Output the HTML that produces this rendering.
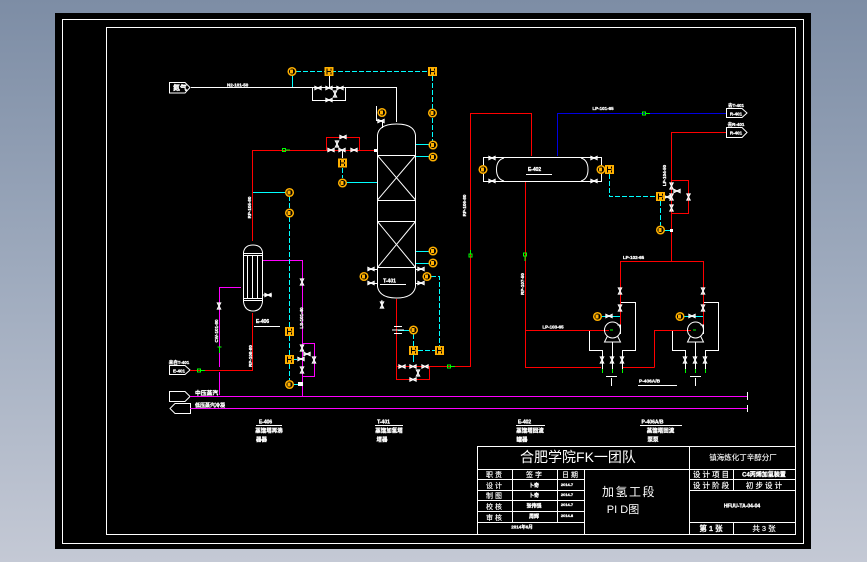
<!DOCTYPE html>
<html><head><meta charset="utf-8">
<style>
html,body{margin:0;padding:0;background:linear-gradient(180deg,#7d8da5 0%,#9fabbe 50%,#c4c9d5 100%);width:867px;height:562px;overflow:hidden}
svg{display:block}
text{font-family:"Liberation Sans","Noto Sans CJK SC",sans-serif;fill:#fff;font-weight:bold;font-size:5px;stroke:#fff;stroke-width:.3}
.t{font-weight:normal;font-size:7px;text-anchor:middle;stroke-width:.15}
.c{font-size:5.500px;text-anchor:middle;font-weight:bold}
.n{stroke:none;font-weight:normal}
</style></head><body>
<svg width="867" height="562" viewBox="0 0 867 562" xmlns="http://www.w3.org/2000/svg">
<defs>
<g id="vh" fill="none" stroke="#fff" stroke-width="1.300"><path d="M-3-1.500V1.500L3-1.500V1.500Z"/></g>
<g id="vv" fill="none" stroke="#fff" stroke-width="1.300"><path d="M-1.500-3H1.500L-1.500 3H1.500Z"/></g>
<g id="i"><circle r="3.800" fill="#000" stroke="#ffb000" stroke-width="1.500"/><rect x="-2" y="-2" width="3" height="4" fill="#ffb000"/></g>
<g id="s"><rect x="-4.500" y="-4.500" width="9" height="9" fill="#ffb000"/><path d="M-2-3V3M-2 0H2M2-3V-1M2 1V3" stroke="#000" stroke-width="1" fill="none"/></g>
<g id="pump" fill="none" stroke="#fff" stroke-width="1"><circle r="8"/><path d="M-5 6L-8 12H8L5 6M-8 12H8"/><path d="M5-5H8V4"/></g>
</defs>

<rect x="55" y="13" width="756" height="536" fill="#000"/>
<g fill="none" stroke="#fff" stroke-width="1" shape-rendering="crispEdges">
<rect x="62.500" y="19.500" width="741" height="524"/>
<rect x="106.500" y="27.500" width="689" height="507"/>
<!-- title block -->
<path d="M477.500 534V446.500H795M477 469.500H795M477 479.500H584M477 490.500H584M477 500.500H584M477 511.500H584M477 522.500H584M512.500 469V522M557.500 469V522M584.500 469V534M689.500 446V534M689 479.500H795M689 490.500H795M689 522.500H795M733.500 469V490M733.500 522V534"/>
</g>

<!-- white process lines -->
<g fill="none" stroke="#fff" stroke-width="1" shape-rendering="crispEdges">
<path d="M191 87.500H396.500V122M312.500 88V100.500H345.500V88M329.500 76V87M342.500 150V158M376.500 106V120.500H382.500V128"/>
<!-- column body -->
<path d="M377.500 135V287M415.500 135V287M377.500 155.500H415.500M377.500 200.500H415.500M377.500 221.500H415.500M377.500 267.500H415.500"/>
<path d="M377 269.500H368M377 283.500H368M416 269.500H423M416 283.500H423"/>
<!-- exchanger -->
<path d="M243.500 252V302M262.500 252V302M243 253.500H263M243 255.500H263M243 298.500H263M243 300.500H263M247.500 256V298M252.500 256V298M257.500 256V298M263 295H272M254 326.500H280M375 425.500H403M256 425.500H282M516 425.500H545M640 425.500H682M638 385.500H677M380 284.500H406M526 174.500H552"/>
<!-- separator -->
<path d="M483.500 157.500H601.500V181.500H483.500Z"/>
<!-- pumps aux -->
<path d="M620.500 302.500H635.500V350.500H622.500V371.500M589.500 330.500V350.500H602.500V371.500M612.500 342V371.500M611.500 378V386M606 376.500H617"/>
<path d="M703.500 302.500H718.500V350.500H705.500V371.500M672.500 330.500V350.500H685.500V371.500M695.500 342V371.500M695.500 378V386M690 376.500H701"/>
<path d="M747.500 392V400M747.500 405V412"/>
</g>
<g fill="none" stroke="#fff" stroke-width="1">
<path d="M377.500 135Q379 124 396.500 124Q414 124 415.500 135"/>
<path d="M377.500 287Q380 298 396.500 298Q413 298 415.500 287"/>
<path d="M377.500 155.500L415.500 200M415.500 155.500L377.500 200M377.500 221.500L415.500 267.500M415.500 221.500L377.500 267.500"/>
<path d="M243.500 252Q245 245 253 245Q261 245 262.500 252M243.500 302Q245 311 253 311Q261 311 262.500 302"/>
<path d="M504 158Q496.500 160 496.500 169.500Q496.500 179 504 181M581 158Q588 160 588 169.500Q588 179 581 181"/>
<path d="M382 300Q381 304 383 308"/>
<!-- tags -->
<path d="M169.500 82.500H185L190 87.500L185 93H169.500Z"/>
<path d="M169.500 365.500H185L190 370L185 374.500H169.500Z"/>
<path d="M169.500 391.500H185L190 396.500L185 401.500H169.500Z"/>
<path d="M190.500 403.500H175L170 408.500L175 413.500H190.500Z"/>
<path d="M726.500 108.500H742L747 113L742 117.500H726.500Z"/>
<path d="M726.500 127.500H742L747 132.500L742 137.500H726.500Z"/>
</g>

<!-- red -->
<g fill="none" stroke="#f00" stroke-width="1" shape-rendering="crispEdges">
<path d="M252.500 241V150.500H377M326.500 150V137.500H359.500V150"/>
<path d="M252.500 313V370.500H190"/>
<path d="M396.500 299V379.500H429.500V366.500H470.500V113.500H531.500V156M396.500 366.500H430"/>
<path d="M671.500 132.500H726M671.500 132V261.500M671.500 180.500H688.500V213.500H671.500"/>
<path d="M620.500 261.500H703.500M620.500 261V330M703.500 261V330M525 330.500H609M654.500 367.500V330.500H691M623 367.500H654.500"/>
<path d="M525.500 182V367.500H601"/>
</g>

<!-- magenta -->
<g fill="none" stroke="#f0f" stroke-width="1" shape-rendering="crispEdges">
<path d="M190 396.500H747M190 408.500H747"/>
<path d="M263 260.500H302.500V396M302.500 343.500H314.500V376.500H302.500"/>
<path d="M241 287.500H219.500V367M219.500 372V395"/>
</g>

<!-- blue -->
<path d="M557.500 156V113.500H726" fill="none" stroke="#0000e0" stroke-width="1" shape-rendering="crispEdges"/>

<!-- cyan solid -->
<g fill="none" stroke="#0ff" stroke-width="1" shape-rendering="crispEdges">
<path d="M292.500 72V87M253 192.500H286M345 182.500H377M416 144.500H430M416 156.500H430M416 251.500H430M416 263.500H430M398 330.500H410M293 384.500H302M293 359.500H297M664 230.500H671M601 316.500H620M684 316.500H703M413.500 355V362"/>
</g>
<!-- cyan dashed -->
<g fill="none" stroke="#0ff" stroke-width="1" stroke-dasharray="5 2" shape-rendering="crispEdges">
<path d="M296 71.500H428M432.500 76V141M342.500 168V178"/>
<path d="M289.500 196V209M289.500 217V327M289.500 336V355M289.500 364V380"/>
<path d="M431 276.500H439.500V346M418 350.500H435M413.500 334V346"/>
<path d="M609.500 174V196.500H656M660.500 201V226"/>
</g>

<!-- green arrows -->
<g fill="none" stroke="#0f0" stroke-width="1" shape-rendering="crispEdges">
<path d="M282.500 148.500H285.500V151.500H282.500ZM286 150H290"/>
<path d="M197.500 369H200.500V372H197.500ZM201 370.500H205"/>
<path d="M447.500 365H450.500V368H447.500ZM451 366.500H455"/>
<path d="M642.500 112H645.500V115H642.500ZM646 113.500H650"/>
<path d="M469 254H472V257H469ZM470.500 250V254"/>
<path d="M523.500 253H526.500V256H523.500ZM525 256V261"/>
<path d="M217.500 347H221.500M219.500 347V353"/>
<path d="M602.500 369V373M612.500 369V373M622.500 369V373M685.500 369V373M695.500 369V373M705.500 369V373M610 330H613M693 330H696"/>
</g>

<!-- valves -->
<use href="#vh" x="318" y="88"/><use href="#vh" x="329" y="88"/><use href="#vh" x="340" y="88"/><use href="#vh" x="329" y="100"/><use href="#vv" x="335" y="94"/>
<use href="#vh" x="331" y="150"/><use href="#vh" x="342" y="150"/><use href="#vh" x="354" y="150"/><use href="#vh" x="343" y="137"/><use href="#vv" x="337" y="144"/>
<use href="#vh" x="381" y="121"/><use href="#vh" x="371" y="269"/><use href="#vh" x="371" y="283"/><use href="#vh" x="421" y="269"/><use href="#vh" x="421" y="283"/>
<use href="#vv" x="382" y="305"/>
<use href="#vv" x="219" y="306"/><use href="#vh" x="268" y="295"/>
<use href="#vv" x="302" y="348"/><use href="#vv" x="302" y="370"/><use href="#vv" x="314" y="360"/><use href="#vh" x="307" y="354"/><use href="#vh" x="301" y="359"/>
<use href="#vh" x="402" y="366.500"/><use href="#vh" x="413" y="366.500"/><use href="#vh" x="425" y="366.500"/><use href="#vh" x="413" y="379.500"/><use href="#vv" x="418" y="373"/>
<use href="#vh" x="492" y="158"/><use href="#vh" x="492" y="181"/><use href="#vh" x="594" y="158"/><use href="#vh" x="594" y="181"/>
<use href="#vv" x="671.500" y="186"/><use href="#vv" x="671.500" y="197"/><use href="#vv" x="671.500" y="208"/><use href="#vv" x="688.500" y="197"/><use href="#vh" x="677" y="191"/><use href="#vh" x="667" y="197"/>
<use href="#vv" x="620" y="291"/><use href="#vv" x="620" y="308"/><use href="#vv" x="703" y="291"/><use href="#vv" x="703" y="308"/>
<use href="#vv" x="602" y="360"/><use href="#vv" x="612" y="360"/><use href="#vv" x="622" y="360"/><use href="#vv" x="685" y="360"/><use href="#vv" x="695" y="360"/><use href="#vv" x="705" y="360"/>
<use href="#vh" x="609" y="316"/><use href="#vh" x="692" y="316"/>
<use href="#vv" x="302" y="282"/>
<path d="M394 326.500H402M394 333.500H402M392 330H404" stroke="#fff" fill="none" stroke-width="1"/>
<rect x="298" y="382" width="5" height="4" fill="#fff"/><rect x="374" y="149" width="3" height="3" fill="#fff"/><rect x="670" y="229" width="3" height="3" fill="#fff"/>

<!-- pumps -->
<use href="#pump" x="612.500" y="330"/><use href="#pump" x="695.500" y="330"/>

<!-- instruments -->
<use href="#i" x="292" y="71.500"/><use href="#i" x="432.500" y="113"/><use href="#i" x="433" y="145"/><use href="#i" x="433" y="157"/>
<use href="#i" x="382" y="112.500"/><use href="#i" x="342.500" y="183"/><use href="#i" x="289.500" y="192.500"/><use href="#i" x="289.500" y="213"/>
<use href="#i" x="433" y="251"/><use href="#i" x="433" y="263"/><use href="#i" x="364" y="276.500"/><use href="#i" x="427" y="276.500"/>
<use href="#i" x="413.500" y="330"/><use href="#i" x="289.500" y="384.500"/>
<use href="#i" x="483" y="169.500"/><use href="#i" x="601" y="169.500"/><use href="#i" x="660.500" y="230"/>
<use href="#i" x="597.500" y="316.500"/><use href="#i" x="680" y="316.500"/>
<use href="#s" x="329" y="71.500"/><use href="#s" x="432.500" y="71.500"/><use href="#s" x="342.500" y="163"/>
<use href="#s" x="289.500" y="331.500"/><use href="#s" x="289.500" y="359.500"/><use href="#s" x="413.500" y="350.500"/><use href="#s" x="439.500" y="350.500"/>
<use href="#s" x="609.500" y="169.500"/><use href="#s" x="660.500" y="196.500"/>

<!-- equipment labels -->
<text x="389.500" y="282.500" text-anchor="middle">T-401</text>
<text x="262.500" y="323" text-anchor="middle">E-406</text>
<text x="534.500" y="171" text-anchor="middle">E-402</text>
<text x="639" y="382.500" style="font-size:4.800px">P-406A/B</text>

<!-- line numbers -->
<text x="227" y="86.500" style="font-size:4.500px">N2-101-50</text>
<text x="603" y="110" text-anchor="middle" style="font-size:4.500px">LP-101-65</text>
<text x="633.500" y="259" text-anchor="middle" style="font-size:4.500px">LP-102-65</text>
<text x="553" y="328.500" text-anchor="middle" style="font-size:4.500px">LP-103-65</text>
<text transform="translate(251,207.500) rotate(-90)" text-anchor="middle" style="font-size:4.500px">RP-105-80</text>
<text transform="translate(466,205.500) rotate(-90)" text-anchor="middle" style="font-size:4.500px">RP-106-80</text>
<text transform="translate(524,284) rotate(-90)" text-anchor="middle" style="font-size:4.500px">RP-107-50</text>
<text transform="translate(252,356) rotate(-90)" text-anchor="middle" style="font-size:4.500px">RP-108-80</text>
<text transform="translate(303,318) rotate(-90)" text-anchor="middle" style="font-size:4.500px">LS-101-40</text>
<text transform="translate(218,331) rotate(-90)" text-anchor="middle" style="font-size:4.500px">CW-101-80</text>
<text transform="translate(666,175.500) rotate(-90)" text-anchor="middle" style="font-size:4.500px">LP-104-50</text>

<!-- tag labels -->
<text x="180" y="90" class="c" style="font-size:7px">氮气</text>
<text x="179" y="372.500" class="c" style="font-size:4.500px">E-401</text>
<text x="179" y="364" class="c" style="font-size:4.500px">来自T-401</text>
<text x="736" y="115.500" class="c" style="font-size:4.500px">R-401</text>
<text x="736" y="107" class="c" style="font-size:4.500px">去T-401</text>
<text x="736" y="134.500" class="c" style="font-size:4.500px">R-401</text>
<text x="736" y="126" class="c" style="font-size:4.500px">去R-401</text>
<text x="195" y="395" style="font-size:5.800px">中压蒸汽</text>
<text x="195" y="407" style="font-size:5px">低压蒸汽冷凝</text>

<!-- bottom legends -->
<text x="265.500" y="423.500" text-anchor="middle">E-406</text>
<text x="269" y="432.500" class="c">蒸馏塔再沸</text><text x="261.500" y="441.500" class="c">器器</text>
<text x="383.500" y="423.500" text-anchor="middle">T-401</text>
<text x="389" y="432.500" class="c">蒸馏加氢塔</text><text x="382" y="441.500" class="c">塔器</text>
<text x="524.500" y="423.500" text-anchor="middle">E-402</text>
<text x="530" y="432.500" class="c">蒸馏塔回流</text><text x="522" y="441.500" class="c">罐器</text>
<text x="652.500" y="423.500" text-anchor="middle">P-406A/B</text>
<text x="660.500" y="432.500" class="c">蒸馏塔回流</text><text x="653" y="441.500" class="c">泵泵</text>

<!-- title block text -->
<text x="578" y="462" text-anchor="middle" class="n" style="font-size:14px">合肥学院FK一团队</text>
<text x="743" y="460" class="c" style="font-size:7.500px;font-weight:normal;stroke-width:.1">镇海炼化丁辛醇分厂</text>
<text x="494" y="477" class="t">职 责</text><text x="534" y="477" class="t">签 字</text><text x="570" y="477" class="t">日 期</text>
<text x="494" y="488" class="t">设 计</text><text x="534" y="487" class="c" style="font-size:5px">卜奇</text><text x="567" y="486" class="c" style="font-size:4px">2014.7</text>
<text x="494" y="498" class="t">制 图</text><text x="534" y="497" class="c" style="font-size:5px">卜奇</text><text x="567" y="496" class="c" style="font-size:4px">2014.7</text>
<text x="494" y="509" class="t">校 核</text><text x="534" y="507.500" class="c" style="font-size:5px">张伟强</text><text x="567" y="506" class="c" style="font-size:4px">2014.7</text>
<text x="494" y="520" class="t">审 核</text><text x="534" y="518" class="c" style="font-size:5px">周辉</text><text x="567" y="517" class="c" style="font-size:4px">2014.8</text>
<text x="522" y="528.500" class="c" style="font-size:4.500px">2014年6月</text>
<text x="629" y="496" text-anchor="middle" class="n" style="font-size:12px;letter-spacing:1.500px">加氢工段</text>
<text x="623" y="513" text-anchor="middle" class="n" style="font-size:11px">PI D图</text>
<text x="711" y="477" class="t" style="font-size:7.500px">设 计 项 目</text><text x="764" y="476.500" class="c" style="font-size:6px">C4丙烯加氢装置</text>
<text x="711" y="488" class="t" style="font-size:7.500px">设 计 阶 段</text><text x="764" y="488" class="t" style="font-size:7.500px">初 步 设 计</text>
<text x="742" y="507.500" class="c" style="font-size:5px">HFUU-TA-04-04</text>
<text x="711" y="531" class="t" style="font-size:7.500px;font-weight:bold">第 1 张</text><text x="764" y="531" class="t" style="font-size:7.500px">共 3 张</text>
</svg>
</body></html>
